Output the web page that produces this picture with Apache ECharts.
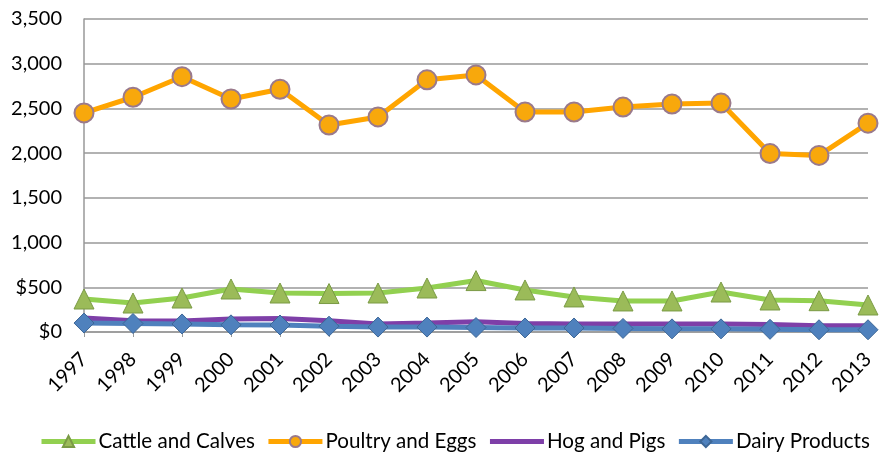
<!DOCTYPE html>
<html><head><meta charset="utf-8">
<script src="https://cdn.jsdelivr.net/npm/echarts@6/dist/echarts.min.js"></script>
<style>html,body{margin:0;padding:0;background:#fff}#c{width:882px;height:454px}</style>
</head><body><div id="c"></div>
<script>
const years = ['1997','1998','1999','2000','2001','2002','2003','2004','2005','2006','2007','2008','2009','2010','2011','2012','2013'];
const cattle = [369,324,380,481,436,430,436,492,575,470,392,347,347,447,358,350,302];
const poultry = [2450,2625,2855,2605,2715,2315,2405,2820,2875,2460,2460,2515,2550,2560,1995,1975,2335];
const hog = [157,125,123,145,150,125,90,100,115,95,90,90,90,90,85,70,70];
const dairy = [100,95,90,80,78,65,55,55,50,45,45,40,35,35,30,25,25];
const seriesNames = ['Cattle and Calves','Poultry and Eggs','Hog and Pigs','Dairy Products'];

const font = 'Lato';
const chart = echarts.init(document.getElementById('c'));
function fmt(v){ const s = v.toLocaleString('en-US'); return v <= 500 ? '$' + s : s; }
chart.setOption({
  animation:false,
  textStyle:{fontFamily:font},
  grid:{left:84,right:14,top:19,bottom:122,containLabel:false},
  legend:{
    bottom:2,left:39,width:1200,padding:0,itemWidth:54,itemHeight:14,itemGap:11,
    textStyle:{fontFamily:font,fontSize:20.6,color:'#000',padding:[0,0,0,-2]},
    data:[
      {name:seriesNames[0],lineStyle:{color:'#92D050',width:5}},
      {name:seriesNames[1],lineStyle:{color:'#FFA500',width:5}},
      {name:seriesNames[2],lineStyle:{color:'#7E3FA8',width:5},itemStyle:{color:'rgba(0,0,0,0)',borderWidth:0,opacity:0}},
      {name:seriesNames[3],lineStyle:{color:'#4F81BD',width:5}}
    ]
  },
  xAxis:{
    type:'category',data:years,boundaryGap:false,
    axisLine:{lineStyle:{color:'#999',width:1.5}},
    axisTick:{show:true,alignWithLabel:true,length:5,lineStyle:{color:'#999'}},
    axisLabel:{rotate:45,fontSize:20,color:'#000',margin:24,fontFamily:font}
  },
  yAxis:{
    type:'value',min:0,max:3500,interval:500,
    axisLine:{show:true,lineStyle:{color:'#999',width:1.5}},
    axisTick:{show:false},
    splitLine:{lineStyle:{color:'#999',width:1.5}},
    axisLabel:{formatter:fmt,fontSize:20,color:'#000',margin:22,fontFamily:font}
  },
  series:[
    {name:seriesNames[0],type:'line',data:cattle,symbol:'triangle',symbolSize:20,
     lineStyle:{color:'#92D050',width:5},
     itemStyle:{color:'#9BBB59',borderColor:'#7A9A45',borderWidth:1}},
    {name:seriesNames[1],type:'line',data:poultry,symbol:'circle',symbolSize:19,
     lineStyle:{color:'#FFA500',width:5},
     itemStyle:{color:'#F8A80C',borderColor:'#9A7A8C',borderWidth:2}},
    {name:seriesNames[2],type:'line',data:hog,symbol:'none',
     lineStyle:{color:'#7E3FA8',width:5},
     itemStyle:{color:'#7E3FA8'}},
    {name:seriesNames[3],type:'line',data:dairy,symbol:'diamond',symbolSize:20,
     lineStyle:{color:'#4F81BD',width:5},
     itemStyle:{color:'#4F81BD',borderColor:'#3C6696',borderWidth:1}}
  ]
});
</script></body></html>
